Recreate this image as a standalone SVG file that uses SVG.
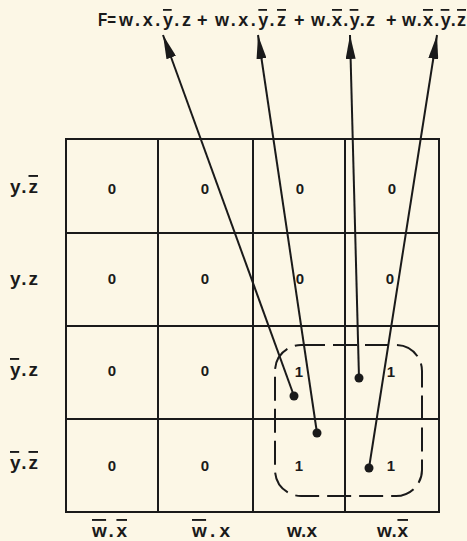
<svg xmlns="http://www.w3.org/2000/svg" width="467" height="541" viewBox="0 0 467 541">
<style>
.t{font-family:"Liberation Sans",Arial,sans-serif;font-weight:bold;fill:#1a1a1a}
.lbl{font-size:19px}
.ttl{font-size:18px}
.d{font-size:15px;text-anchor:middle}
.ob{text-decoration:overline}
.grid{fill:none;stroke:#1a1a1a;stroke-width:2}
.arr{fill:none;stroke:#1a1a1a;stroke-width:2;marker-end:url(#ah)}
.dot{fill:#1a1a1a}
</style>
<defs>
<marker id="ah" viewBox="0 0 24 10" refX="24" refY="5" markerWidth="24" markerHeight="10" markerUnits="userSpaceOnUse" orient="auto">
<path d="M0,0 L24,5 L0,10 z" fill="#1a1a1a"/>
</marker>
</defs>
<rect width="467" height="541" fill="#fcf7e6"/>
<g id="title">
<text class="t ttl" x="98" y="26" textLength="18" lengthAdjust="spacingAndGlyphs">F=</text>
<text class="t ttl" x="119" y="26" textLength="72" lengthAdjust="spacing">w.x.<tspan class="ob">y</tspan>.z</text>
<text class="t ttl" x="197" y="26">+</text>
<text class="t ttl" x="215" y="26" textLength="71" lengthAdjust="spacing">w.x.<tspan class="ob">y</tspan>.<tspan class="ob">z</tspan></text>
<text class="t ttl" x="294" y="26">+</text>
<text class="t ttl" x="311" y="26" textLength="64" lengthAdjust="spacing">w.<tspan class="ob">x</tspan>.<tspan class="ob">y</tspan>.z</text>
<text class="t ttl" x="386" y="26">+</text>
<text class="t ttl" x="402" y="26" textLength="64" lengthAdjust="spacing">w.<tspan class="ob">x</tspan>.<tspan class="ob">y</tspan>.<tspan class="ob">z</tspan></text>
</g>
<g id="kmap">
<rect class="grid" x="66" y="139" width="373" height="373"/>
<line class="grid" x1="158" y1="139" x2="158" y2="512"/>
<line class="grid" x1="253" y1="139" x2="253" y2="512"/>
<line class="grid" x1="345" y1="139" x2="345" y2="512"/>
<line class="grid" x1="66" y1="233" x2="439" y2="233"/>
<line class="grid" x1="66" y1="326" x2="439" y2="326"/>
<line class="grid" x1="66" y1="419" x2="439" y2="419"/>
</g>
<g id="row-labels">
<text class="t lbl" x="10" y="193" textLength="28" lengthAdjust="spacing">y.<tspan class="ob">z</tspan></text>
<text class="t lbl" x="10" y="285" textLength="28" lengthAdjust="spacing">y.z</text>
<text class="t lbl" x="10" y="376" textLength="28" lengthAdjust="spacing"><tspan class="ob">y</tspan>.z</text>
<text class="t lbl" x="10" y="469" textLength="28" lengthAdjust="spacing"><tspan class="ob">y</tspan>.<tspan class="ob">z</tspan></text>
</g>
<g id="col-labels">
<text class="t lbl" x="92" y="537" textLength="35" lengthAdjust="spacing"><tspan class="ob">w</tspan>.<tspan class="ob">x</tspan></text>
<text class="t lbl" x="192" y="537" textLength="38" lengthAdjust="spacing"><tspan class="ob">w</tspan>.x</text>
<text class="t lbl" x="287" y="537" textLength="30" lengthAdjust="spacing">w.x</text>
<text class="t lbl" x="377" y="537" textLength="31" lengthAdjust="spacing">w.<tspan class="ob">x</tspan></text>
</g>
<g id="cells">
<text class="t d" x="112" y="194">0</text>
<text class="t d" x="205" y="194">0</text>
<text class="t d" x="300" y="194">0</text>
<text class="t d" x="392" y="194">0</text>
<text class="t d" x="112" y="284">0</text>
<text class="t d" x="205" y="284">0</text>
<text class="t d" x="300" y="284">0</text>
<text class="t d" x="390" y="284">0</text>
<text class="t d" x="112" y="376">0</text>
<text class="t d" x="205" y="376">0</text>
<text class="t d" x="299" y="377">1</text>
<text class="t d" x="391" y="377">1</text>
<text class="t d" x="112" y="471">0</text>
<text class="t d" x="205" y="471">0</text>
<text class="t d" x="299" y="471">1</text>
<text class="t d" x="391" y="471">1</text>
</g>
<g id="group-loop">
<rect x="275" y="345" width="147" height="151" rx="26" ry="26" fill="none" stroke="#1a1a1a" stroke-width="2" stroke-dasharray="24,8"/>
</g>
<g id="connectors">
<line class="arr" x1="294" y1="396" x2="163" y2="35"/>
<line class="arr" x1="317" y1="433" x2="258" y2="35"/>
<line class="arr" x1="359" y1="378" x2="350" y2="35"/>
<line class="arr" x1="369" y1="468" x2="437" y2="35"/>
<circle class="dot" cx="294" cy="396" r="4.5"/>
<circle class="dot" cx="317" cy="433" r="4.5"/>
<circle class="dot" cx="359" cy="378" r="4.5"/>
<circle class="dot" cx="369" cy="468" r="4.5"/>
</g>
</svg>
